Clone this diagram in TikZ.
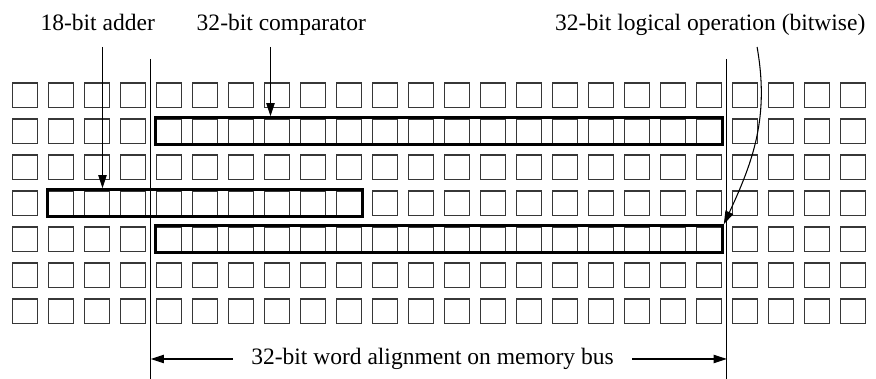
\documentclass[tikz,border=0pt]{standalone}
\usepackage{fontspec}
\setmainfont{Liberation Serif}
\usetikzlibrary{arrows.meta, positioning, calc, fit}
\definecolor{CellGray}{RGB}{55,55,55}

\begin{document}
\begin{tikzpicture}[
    cell/.style={draw=CellGray, line width=0.5pt, minimum size=0.41cm, inner sep=0pt},
    unit/.style={draw, line width=1.4pt, inner sep=0.012cm},
    arr/.style={-{Triangle[length=0.22cm,width=0.14cm]}, line width=0.5pt},
    lbl/.style={anchor=base},
    font=\fontsize{11.15}{13}\selectfont
  ]
  \useasboundingbox (-0.2083,1.383) rectangle (14.392,-4.933);

  % 24 x 7 array of cells
  \foreach \j in {0,...,6}{
    \foreach \i in {0,...,23}{
      \node[cell] (c\i-\j) at (0.6*\i+0.205, -0.6*\j-0.205) {};
    }
  }

  % functional units laid over the array
  \node[unit, fit=(c4-1)(c19-1)] (cmp) {};
  \node[unit, fit=(c1-3)(c9-3)] (adder) {};
  \node[unit, fit=(c4-4)(c19-4)] (logic) {};

  % word boundaries
  \coordinate (wl-top) at (2.305,0.4);
  \coordinate (wl-bot) at (2.305,-4.933);
  \coordinate (wr-top) at (11.905,0.4);
  \coordinate (wr-bot) at (11.905,-4.933);
  \draw[line width=0.5pt] (wl-top) -- (wl-bot);
  \draw[line width=0.5pt] (wr-top) -- (wr-bot);

  % labels
  \node[lbl] (adder-lbl) at (1.42,0.87) {18-bit adder};
  \node[lbl] (cmp-lbl) at (4.48,0.87) {32-bit comparator};
  \node[lbl] (logic-lbl) at (11.63,0.87) {32-bit logical operation (bitwise)};

  \coordinate (adder-from) at (1.5,0.6);
  \coordinate (cmp-from) at (4.3,0.6);
  \coordinate (logic-from) at (12.41,0.6);
  \draw[arr] (adder-from) -- (adder-from |- adder.north);
  \draw[arr] (cmp-from) -- (cmp-from |- cmp.north);
  \draw[arr] (logic-from) to[out=-80, in=65] (logic.north east);

  % bus width
  \node[inner xsep=0.3cm, inner ysep=0pt] (bus) at (7.0,-4.6)
    {32-bit word alignment on memory bus};
  \draw[arr] (bus.west) -- (bus.west -| wl-top);
  \draw[arr] (bus.east) -- (bus.east -| wr-top);
\end{tikzpicture}
\end{document}
